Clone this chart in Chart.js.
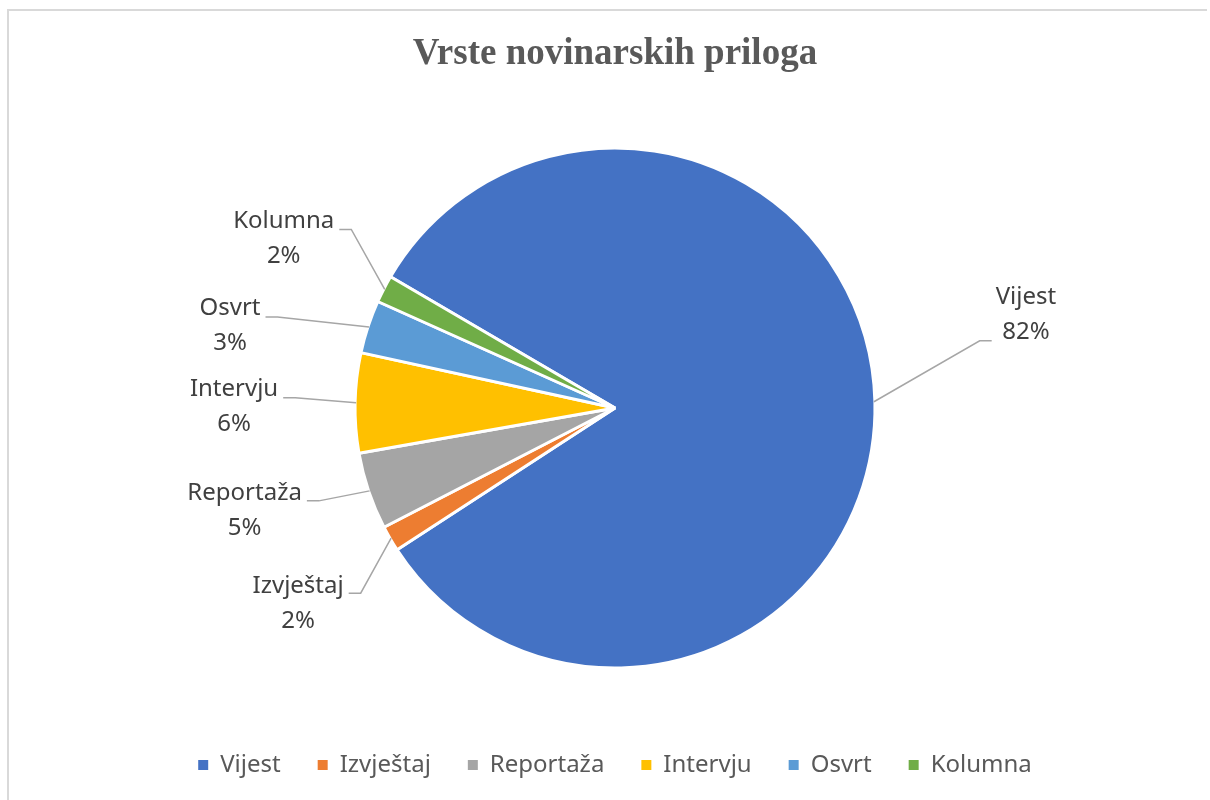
<!DOCTYPE html>
<html>
<head>
<meta charset="utf-8">
<script src="https://cdn.jsdelivr.net/npm/chart.js@4.4.0/dist/chart.umd.min.js"></script>
<style>
    html, body { margin: 0; padding: 0; background: #fff; }
    #wrap { width: 1210px; height: 800px; position: relative; }
</style>
</head>
<body>
<div id="wrap"><canvas id="pieChart"></canvas></div>
<script>
const chartTitle = 'Vrste novinarskih priloga';
const categories = ['Vijest', 'Izvještaj', 'Reportaža', 'Intervju', 'Osvrt', 'Kolumna'];
const shares = [82.4, 1.6, 4.8, 6.2, 3.3, 1.7];
const sliceColors = ['#4472C4', '#ED7D31', '#A5A5A5', '#FFC000', '#5B9BD5', '#70AD47'];

// where each data label sits, relative to the point on the slice edge
const labelPlacement = [
    { dx: 152, dy: -87, attachDy: 26 },
    { dx: -93, dy: 65, attachDy: -10 },
    { dx: -125, dy: 20, attachDy: -10 },
    { dx: -122, dy: 4, attachDy: -9 },
    { dx: -139, dy: -1, attachDy: -9 },
    { dx: -101, dy: -51, attachDy: -9 }
];

const labelFont = '24px "Noto Sans"';

// thin frame round the chart, like the Excel chart area border
const framePlugin = {
    id: 'frame',
    beforeDraw(chart) {
        const ctx = chart.ctx;
        ctx.save();
        ctx.strokeStyle = '#d9d9d9';
        ctx.lineWidth = 2;
        ctx.beginPath();
        ctx.moveTo(8, 800);
        ctx.lineTo(8, 10);
        ctx.lineTo(1207, 10);
        ctx.stroke();
        ctx.restore();
    }
};

// category name + percent outside each slice, with a leader line
const outsideLabels = {
    id: 'outsideLabels',
    afterDatasetsDraw(chart) {
        const ctx = chart.ctx;
        const meta = chart.getDatasetMeta(0);
        const values = chart.data.datasets[0].data;
        const total = values.reduce((a, b) => a + b, 0);

        ctx.save();
        ctx.font = labelFont;
        ctx.textAlign = 'center';
        ctx.textBaseline = 'middle';

        meta.data.forEach((arc, i) => {
            const p = arc.getProps(['x', 'y', 'startAngle', 'endAngle', 'outerRadius'], true);
            const mid = (p.startAngle + p.endAngle) / 2;
            const ax = p.x + Math.cos(mid) * (p.outerRadius - 1);
            const ay = p.y + Math.sin(mid) * (p.outerRadius - 1);

            const place = labelPlacement[i];
            const cx = ax + place.dx;
            const cy = ay + place.dy;
            const lines = [chart.data.labels[i], Math.round(values[i] / total * 100) + '%'];
            const w = Math.max(...lines.map(t => ctx.measureText(t).width));

            // leader line
            const right = place.dx > 0;
            const edgeX = right ? cx - w / 2 - 4 : cx + w / 2 + 5;
            const elbowX = right ? edgeX - 12 : edgeX + 12;
            const lineY = cy + place.attachDy;
            ctx.strokeStyle = '#a6a6a6';
            ctx.lineWidth = 1.5;
            ctx.beginPath();
            ctx.moveTo(ax, ay);
            ctx.lineTo(elbowX, lineY);
            ctx.lineTo(edgeX, lineY);
            ctx.stroke();

            ctx.fillStyle = '#404040';
            ctx.fillText(lines[0], cx, cy - 17.5);
            ctx.fillText(lines[1], cx, cy + 17.5);
        });
        ctx.restore();
    }
};

const ctx = document.getElementById('pieChart');

new Chart(ctx, {
    type: 'pie',
    data: {
        labels: categories,
        datasets: [{
            data: shares,
            backgroundColor: sliceColors,
            borderColor: '#ffffff',
            borderWidth: 3,
            radius: 260
        }]
    },
    options: {
        responsive: true,
        maintainAspectRatio: false,
        animation: false,
        rotation: 300.3,
        layout: {
            padding: { left: 20, right: 0, top: 0, bottom: 13 }
        },
        plugins: {
            tooltip: { enabled: false },
            title: {
                display: true,
                text: chartTitle,
                color: '#595959',
                font: { family: '"Liberation Serif"', size: 37, weight: 'bold' },
                padding: { top: 32, bottom: 23.6 }
            },
            legend: {
                position: 'bottom',
                labels: {
                    color: '#595959',
                    font: { family: '"Noto Sans"', size: 24 },
                    boxWidth: 10,
                    boxHeight: 10,
                    padding: 37,
                    generateLabels(chart) {
                        const items = Chart.overrides.pie.plugins.legend.labels.generateLabels(chart);
                        items.forEach(item => {
                            item.lineWidth = 0;
                            item.strokeStyle = item.fillStyle;
                        });
                        return items;
                    }
                }
            }
        }
    },
    plugins: [framePlugin, outsideLabels]
});
</script>
</body>
</html>
